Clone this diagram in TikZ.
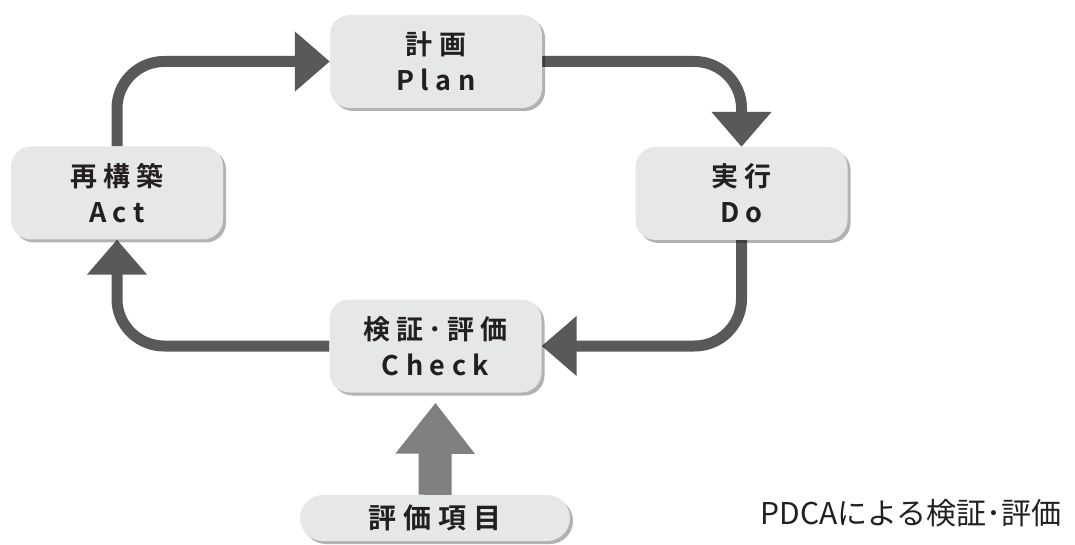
\documentclass[tikz,border=0pt]{standalone}
\usepackage{fontspec}
\setmainfont{Noto Sans CJK JP}
\newfontfamily\boxfont[LetterSpace=24]{Noto Sans CJK JP Bold}
\usetikzlibrary{arrows.meta,shadows,backgrounds}
\definecolor{boxfill}{HTML}{E6E7E8}
\definecolor{arrowdark}{HTML}{58595B}
\definecolor{arrowlight}{HTML}{808080}
\definecolor{textcol}{HTML}{231F20}
\tikzset{
  stagebox/.style={draw=none, fill=boxfill, rounded corners=20pt,
    minimum width=212pt, minimum height=93pt, align=center, inner sep=0pt,
    text=textcol, font=\boxfont\fontsize{27pt}{36pt}\selectfont,
    drop shadow={shadow xshift=3pt, shadow yshift=-3pt, fill=black, opacity=0.3}},
  flow/.style={draw=arrowdark, line width=11pt,
    -{Triangle[length=35pt, width=58pt]}},
  roundbend/.style={rounded corners=47pt},
  input/.style={draw=arrowlight, line width=33pt,
    -{Triangle[length=51pt, width=76pt]}}
}
\begin{document}
\begin{tikzpicture}[x=1pt, y=-1pt]
\useasboundingbox (0,0) rectangle (1075,545);
\node[stagebox] (plan) at (436,61.5) {計画\\Plan};
\node[stagebox] (do) at (741.5,193.5) {実行\\Do};
\node[stagebox] (check) at (435.5,346) {検証\kern5pt･\kern5pt評価\\Check};
\node[stagebox] (act) at (117,193) {再構築\\Act};
\node[stagebox, minimum width=270pt, minimum height=46pt, rounded corners=23pt,
  font=\boxfont\fontsize{28pt}{32pt}\selectfont] (items) at (435,518) {評価項目};
\node[text=textcol, font=\fontsize{30pt}{34pt}\selectfont, inner sep=0pt] (caption) at (911,513) {PDCAによる検証･評価};
\begin{pgfonlayer}{background}
\draw[flow] (plan.east) {[roundbend] -| (do.north)};
\draw[flow] (do.south) {[roundbend] |- (check.east)};
\draw[flow] (check.west) {[roundbend] -| (act.south)};
\draw[flow] (act.north) {[roundbend] |- (plan.west)};
\draw[input, shorten >=10pt] (items.north) -- (check.south);
\end{pgfonlayer}
\end{tikzpicture}
\end{document}
